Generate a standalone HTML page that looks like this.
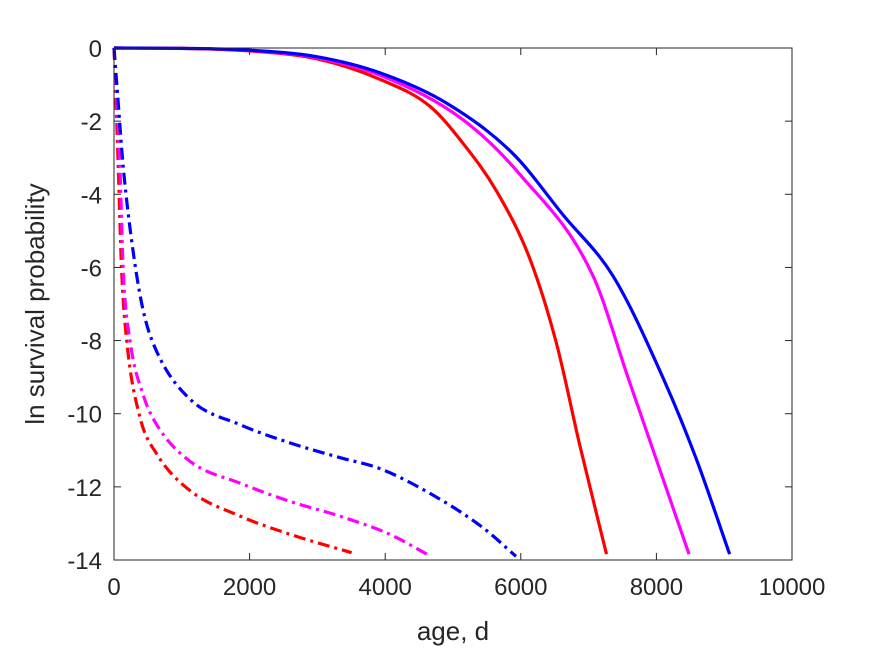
<!DOCTYPE html>
<html><head><meta charset="utf-8"><style>
body{margin:0;background:#fff;}
svg text{font-family:"Liberation Sans",sans-serif;fill:#262626;}
</style></head><body>
<svg width="875" height="656" id="chart">
<rect x="0" y="0" width="875" height="656" fill="#fff"/>
<g id="marks"></g>
<g id="axes"></g>
<text x="453" y="640" font-size="26" text-anchor="middle">age, d</text>
<text transform="translate(44,304) rotate(-90)" font-size="26" text-anchor="middle">ln survival probability</text>
</svg>
<script>
const xTicks=[0,2000,4000,6000,8000,10000];
const yTicks=[0,-2,-4,-6,-8,-10,-12,-14];
const redSolidT=[0,1000,2000,3000,3926,4663,5153,5644,6135,6528,6871,7264];
const redSolidV=[0,-0.01,-0.08,-0.3,-0.86,-1.6,-2.62,-3.92,-5.77,-8.09,-10.87,-13.84];
const magSolidT=[0,1000,2000,3000,4000,5153,5988,7067,7583,8481];
const magSolidV=[0,-0.01,-0.07,-0.27,-0.8,-1.97,-3.46,-6.24,-9.02,-13.84];
const blueSolidT=[0,1000,2000,3000,3926,4908,5890,6626,7362,8098,8589,9080];
const blueSolidV=[0,-0.01,-0.06,-0.24,-0.68,-1.51,-2.9,-4.57,-6.24,-9.02,-11.24,-13.84];
const blueDashT=[0,50,137,285,433,630,1120,1860,2600,3330,3920,4680,5430,5930];
const blueDashV=[0,-1.2,-3.27,-5.6,-7.2,-8.3,-9.6,-10.3,-10.8,-11.2,-11.5,-12.2,-13.1,-13.9];
const magDashT=[0,30,88,137,236,433,630,1120,1860,2600,3330,4070,4625];
const magDashV=[0,-1.0,-3.27,-6.1,-8.0,-9.5,-10.3,-11.3,-11.9,-12.4,-12.8,-13.3,-13.85];
const redDashT=[0,25,63,113,187,383,630,1120,1860,2600,3505];
const redDashV=[0,-1.2,-3.27,-6.1,-8.0,-10.1,-11.1,-12.1,-12.8,-13.3,-13.8];

const X0=114,X1=792,Y0=48,Y1=560;
const sx=t=>X0+(t-0)/(10000)*(X1-X0);
const sy=v=>Y0+(0-v)/14*(Y1-Y0);
const NS="http://www.w3.org/2000/svg";
const marks=document.getElementById('marks'),axes=document.getElementById('axes');
function mk(tag,attrs,parent){const e=document.createElementNS(NS,tag);for(const k in attrs)e.setAttribute(k,attrs[k]);parent.appendChild(e);return e;}
// monotone cubic (Fritsch-Carlson) through data points
function pathD(T,V){
  const n=T.length,x=T.map(sx),y=V.map(sy);
  const d=[],m=new Array(n);
  for(let i=0;i<n-1;i++)d.push((y[i+1]-y[i])/(x[i+1]-x[i]));
  m[0]=d[0];m[n-1]=d[n-2];
  for(let i=1;i<n-1;i++){m[i]=(d[i-1]*d[i]<=0)?0:(d[i-1]+d[i])/2;}
  for(let i=0;i<n-1;i++){
    if(d[i]===0){m[i]=0;m[i+1]=0;continue;}
    const a=m[i]/d[i],b=m[i+1]/d[i],s=a*a+b*b;
    if(s>9){const tau=3/Math.sqrt(s);m[i]=tau*a*d[i];m[i+1]=tau*b*d[i];}
  }
  let p='M'+x[0]+','+y[0];
  for(let i=0;i<n-1;i++){
    const h=(x[i+1]-x[i])/3;
    p+=' C'+(x[i]+h)+','+(y[i]+m[i]*h)+' '+(x[i+1]-h)+','+(y[i+1]-m[i+1]*h)+' '+x[i+1]+','+y[i+1];
  }
  return p;
}
const series=[
 [redDashT,redDashV,'#ff0000',true,'red-dashdot-line'],
 [magDashT,magDashV,'#ff00ff',true,'magenta-dashdot-line'],
 [blueDashT,blueDashV,'#0000ff',true,'blue-dashdot-line'],
 [redSolidT,redSolidV,'#ff0000',false,'red-solid-line'],
 [magSolidT,magSolidV,'#ff00ff',false,'magenta-solid-line'],
 [blueSolidT,blueSolidV,'#0000ff',false,'blue-solid-line']];
series.forEach(s=>{
  const el=mk('path',{d:pathD(s[0],s[1]),fill:'none',stroke:s[2],'stroke-width':3.2,'stroke-linejoin':'round'},marks);
  if(s[3])el.setAttribute('stroke-dasharray','12 5 3 5');
  
  
});
const box=mk('rect',{x:X0,y:Y0,width:X1-X0,height:Y1-Y0,fill:'none',stroke:'#262626','stroke-width':1},axes);


xTicks.forEach(t=>{
  mk('line',{x1:sx(t),x2:sx(t),y1:Y1,y2:Y1-7,stroke:'#262626'},axes);
  mk('line',{x1:sx(t),x2:sx(t),y1:Y0,y2:Y0+7,stroke:'#262626'},axes);
  const tx=mk('text',{x:sx(t),y:Y1+35,'font-size':24,'text-anchor':'middle'},axes);
  tx.textContent=t;
  
  
});
yTicks.forEach(v=>{
  mk('line',{x1:X0,x2:X0+7,y1:sy(v),y2:sy(v),stroke:'#262626'},axes);
  mk('line',{x1:X1,x2:X1-7,y1:sy(v),y2:sy(v),stroke:'#262626'},axes);
  const tx=mk('text',{x:X0-12,y:sy(v)+9,'font-size':24,'text-anchor':'end'},axes);
  tx.textContent=v;
  
  
});
</script>
</body></html>
